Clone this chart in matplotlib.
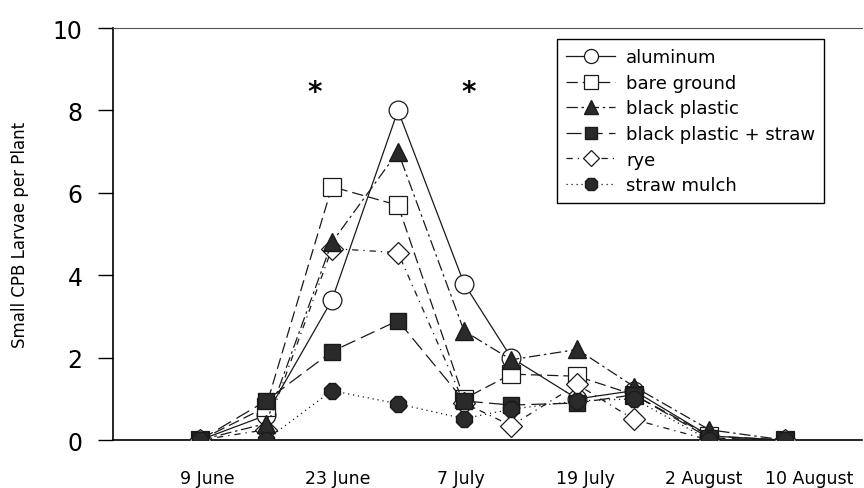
import matplotlib.pyplot as plt
import matplotlib.transforms as mtrans
import numpy as np

plt.rcParams['font.family'] = ['DejaVu Sans']

# sampling dates, as days after 9 June
days = [0, 7, 14, 21, 28, 33, 40, 46, 54, 62]
tick_days = [0, 14, 28, 40, 54, 62]
tick_labels = ['9 June', '23 June', '7 July', '19 July', '2 August', '10 August']

aluminum = [0, 0.6, 3.4, 8.0, 3.8, 2.0, 1.0, 1.2, 0.1, 0]
bare_ground = [0, 0.8, 6.15, 5.7, 1.0, 1.6, 1.55, 1.1, 0.1, 0]
black_plastic = [0, 0.4, 4.8, 7.0, 2.65, 1.95, 2.2, 1.3, 0.25, 0]
bp_straw = [0, 0.95, 2.15, 2.9, 0.95, 0.85, 0.9, 1.1, 0.05, 0]
rye = [0, 0.25, 4.65, 4.55, 0.9, 0.35, 1.35, 0.5, 0, 0]
straw_mulch = [0, 0, 1.2, 0.88, 0.52, 0.75, 0.95, 1.0, 0, 0]

star_days = [12.2, 28.5]
star_y = 8.45

fig = plt.figure(figsize=(8.64, 4.89), dpi=100)
ax = fig.add_axes([0.1308, 0.098, 0.8672, 0.8425])

blk = '#1a1a1a'
fill = '#2a2a2a'
ax.plot(days, aluminum, color=blk, lw=0.9, ls='-', marker='o', ms=13.5,
        mfc='white', mec=blk, mew=0.9, label='aluminum', zorder=3)
ax.plot(days, bare_ground, color=blk, lw=0.9, ls=(0, (9, 4)), marker='s', ms=12.5,
        mfc='white', mec=blk, mew=0.9, label='bare ground', zorder=3)
ax.plot(days, black_plastic, color=blk, lw=0.9, ls=(0, (9, 3, 2, 3)), marker='^', ms=13.5,
        mfc=fill, mec=blk, label='black plastic', zorder=4)
ax.plot(days, bp_straw, color=blk, lw=0.9, ls=(0, (12, 5)), marker='s', ms=12,
        mfc=fill, mec=blk, label='black plastic + straw', zorder=4)
ax.plot(days, rye, color=blk, lw=0.9, ls=(0, (5, 4, 1, 4)), marker='D', ms=11.5,
        mfc='white', mec=blk, mew=0.9, label='rye', zorder=3)
ax.plot(days, straw_mulch, color=blk, lw=0.9, ls=(0, (1, 3)), marker='8', ms=13,
        mfc=fill, mec=blk, label='straw mulch', zorder=4)

for d in star_days:
    ax.text(d, star_y, '*', ha='center', va='center', fontsize=20, fontweight='bold')

ax.set_xlim(-9.2, 70.2)
ax.set_ylim(0, 10)
ax.set_yticks([0, 2, 4, 6, 8, 10])
ax.tick_params(axis='y', direction='out', length=11, width=1, pad=11, labelsize=17)
ax.set_xticks(tick_days)
ax.set_xticklabels(tick_labels, fontsize=12.5)
ax.tick_params(axis='x', length=0, pad=21)

# the printed labels sit a little off their dates
label_dx = [7, 6, -3, 8, -6, 24]
for lab, dx in zip(ax.get_xticklabels(), label_dx):
    lab.set_transform(lab.get_transform() +
                      mtrans.ScaledTranslation(dx / 100, 0, fig.dpi_scale_trans))

ax.spines['right'].set_visible(False)
ax.spines['top'].set_color('#555555')
ax.spines['top'].set_linewidth(0.8)
ax.spines['left'].set_linewidth(1.2)
ax.spines['bottom'].set_linewidth(1.2)

ax.set_ylabel('Small CPB Larvae per Plant', fontsize=12, labelpad=17)

leg = ax.legend(loc='upper left', bbox_to_anchor=(0.593, 0.973), fontsize=13,
                frameon=True, fancybox=False, framealpha=1, edgecolor='black',
                handlelength=2.7, labelspacing=0.42, markerscale=0.75,
                borderpad=0.5, handletextpad=0.6, borderaxespad=0)
leg.get_frame().set_linewidth(1.0)

fig.savefig('out.png', dpi=100)
